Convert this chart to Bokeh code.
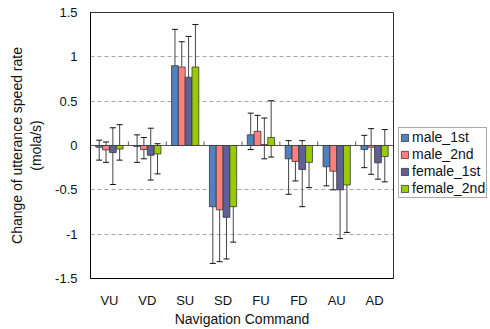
from bokeh.plotting import figure
from bokeh.models import (ColumnDataSource, FactorRange, Range1d, Whisker, TeeHead,
                          Legend, LegendItem, FixedTicker)
from bokeh.transform import dodge
from bokeh.layouts import row
from bokeh.embed import file_html
from bokeh.resources import INLINE

cats = ["VU", "VD", "SU", "SD", "FU", "FD", "AU", "AD"]
series = ["male_1st", "male_2nd", "female_1st", "female_2nd"]

male_1st = [-0.02, -0.01, 0.90, -0.69, 0.12, -0.15, -0.24, -0.045]
male_1st_hi = [0.06, 0.12, 1.31, -0.49, 0.365, 0.055, -0.11, 0.115]
male_1st_lo = [-0.165, -0.19, 0.49, -1.33, -0.045, -0.55, -0.455, -0.25]

male_2nd = [-0.05, -0.045, 0.885, -0.725, 0.16, -0.18, -0.29, -0.02]
male_2nd_hi = [0.04, 0.09, 1.17, -0.585, 0.34, -0.09, -0.08, 0.19]
male_2nd_lo = [-0.19, -0.15, 0.525, -1.31, 0.065, -0.40, -0.50, -0.325]

female_1st = [-0.08, -0.11, 0.77, -0.81, 0.01, -0.27, -0.50, -0.195]
female_1st_hi = [0.20, 0.195, 1.23, -0.485, 0.31, 0.055, -0.22, 0.0]
female_1st_lo = [-0.44, -0.39, 0.375, -1.28, -0.15, -0.69, -1.05, -0.38]

female_2nd = [-0.04, -0.095, 0.885, -0.69, 0.09, -0.19, -0.445, -0.125]
female_2nd_hi = [0.235, 0.02, 1.365, -0.38, 0.505, 0.0, -0.14, 0.18]
female_2nd_lo = [-0.165, -0.32, 0.355, -1.09, -0.13, -0.475, -0.98, -0.41]

y_ticks = [-1.5, -1.0, -0.5, 0.0, 0.5, 1.0, 1.5]
y_tick_labels = ["-1.5", "-1", "-0.5", "0", "0.5", "1", "1.5"]

means = [male_1st, male_2nd, female_1st, female_2nd]
highs = [male_1st_hi, male_2nd_hi, female_1st_hi, female_2nd_hi]
lows = [male_1st_lo, male_2nd_lo, female_1st_lo, female_2nd_lo]
colors = ["#4F81BD", "#FF7F7F", "#5F5F9A", "#99CC00"]
offsets = [-0.27, -0.09, 0.09, 0.27]
BAR_W = 0.18
TICK_LEN = 0.045
FONT = "Liberation Sans"

p = figure(x_range=FactorRange(factors=cats), y_range=Range1d(-1.5, 1.5),
           width=394, height=329, output_backend="svg", toolbar_location=None,
           min_border_left=90, min_border_right=1, min_border_top=12, min_border_bottom=51)

p.outline_line_color = "#333333"
p.outline_line_width = 1
p.background_fill_color = "white"
p.border_fill_color = "white"

p.xgrid.visible = False
p.ygrid.ticker = FixedTicker(ticks=[t for t in y_ticks if 0 < abs(t) < 1.5])
p.ygrid.grid_line_color = "#a6a6a6"
p.ygrid.grid_line_dash = "4 3"
p.ygrid.grid_line_width = 1

# zero (category) axis line
p.hspan(y=[0.0], line_color="#555555", line_width=1)

# tick marks between categories on the zero line
tsrc = ColumnDataSource(dict(cat=cats[:-1], y0=[0.0] * (len(cats) - 1), y1=[TICK_LEN] * (len(cats) - 1)))
p.segment(x0=dodge("cat", 0.5, range=p.x_range), x1=dodge("cat", 0.5, range=p.x_range),
          y0="y0", y1="y1", source=tsrc, line_color="#555555", line_width=1)

# legend-only companion figure (its bar renderers are hidden; only the legend shows)
p2 = figure(x_range=FactorRange(factors=cats), y_range=Range1d(-1.5, 1.5), width=96, height=329,
            output_backend="svg", toolbar_location=None,
            x_axis_location=None, y_axis_location=None, min_border=0)
p2.outline_line_color = None
p2.xgrid.visible = False
p2.ygrid.visible = False
p2.background_fill_color = "white"
p2.border_fill_color = "white"

items = []
for name, m, hi, lo, c, off in zip(series, means, highs, lows, colors, offsets):
    src = ColumnDataSource(dict(cat=cats, top=m, hi=hi, lo=lo))
    p.vbar(x=dodge("cat", off, range=p.x_range), top="top", bottom=0, width=BAR_W,
           source=src, fill_color=c, line_color="#383838", line_width=0.8)
    w = Whisker(base=dodge("cat", off, range=p.x_range), upper="hi", lower="lo", source=src,
                line_color="#444444", line_width=1,
                upper_head=TeeHead(size=6, line_color="#111111", line_width=1),
                lower_head=TeeHead(size=6, line_color="#111111", line_width=1))
    p.add_layout(w)
    r2 = p2.vbar(x=dodge("cat", off, range=p2.x_range), top="top", bottom=0, width=BAR_W,
                 source=src, fill_color=c, line_color="#383838", line_width=0.8)
    r2.visible = False
    items.append(LegendItem(label=name, renderers=[r2]))

legend = Legend(items=items, location=(4, 80))
legend.label_text_font = FONT
legend.label_text_font_size = "14px"
legend.label_text_color = "#111111"
legend.glyph_width = 9
legend.glyph_height = 9
legend.label_height = 15
legend.spacing = 1
legend.padding = 1
legend.margin = 0
legend.label_standoff = 3
legend.border_line_color = "#555555"
legend.border_line_width = 1.5
legend.background_fill_alpha = 1
legend.inactive_fill_alpha = 0
p2.add_layout(legend)

# y axis
p.yaxis.ticker = FixedTicker(ticks=y_ticks)
p.yaxis.major_label_overrides = {t: s for t, s in zip(y_ticks, y_tick_labels)}
p.yaxis.major_tick_in = 0
p.yaxis.major_tick_out = 0
p.yaxis.minor_tick_in = 0
p.yaxis.minor_tick_out = 0
p.yaxis.major_label_standoff = 13
p.yaxis.major_label_text_font = FONT
p.yaxis.major_label_text_font_size = "13px"
p.yaxis.major_label_text_color = "#111111"
p.yaxis.axis_line_color = "black"
p.yaxis.axis_label = "Change of utterance speed rate\n(mola/s)"
p.yaxis.axis_label_text_font = FONT
p.yaxis.axis_label_text_font_size = "14px"
p.yaxis.axis_label_text_font_style = "normal"
p.yaxis.axis_label_text_color = "#111111"
p.yaxis.axis_label_standoff = 8

# x axis
p.xaxis.major_tick_in = 0
p.xaxis.major_tick_out = 0
p.xaxis.major_label_standoff = 14
p.xaxis.major_label_text_font = FONT
p.xaxis.major_label_text_font_size = "13px"
p.xaxis.major_label_text_color = "#111111"
p.xaxis.axis_line_color = "black"
p.xaxis.axis_label = "Navigation Command"
p.xaxis.axis_label_text_font = FONT
p.xaxis.axis_label_text_font_size = "14px"
p.xaxis.axis_label_text_font_style = "normal"
p.xaxis.axis_label_text_color = "#111111"
p.xaxis.axis_label_standoff = 0

layout = row(p, p2, spacing=0)
open("out.html", "w").write(file_html(layout, INLINE))
